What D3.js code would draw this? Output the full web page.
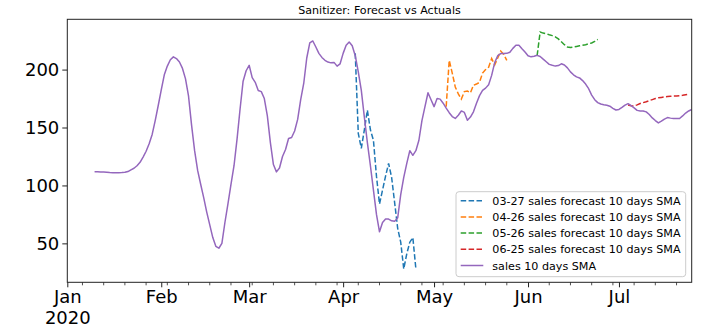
<!DOCTYPE html>
<html><head><meta charset="utf-8">
<script src="https://cdn.jsdelivr.net/npm/d3@7"></script>
<style>body{margin:0;background:#fff} svg{display:block} text{font-family:"DejaVu Sans",sans-serif}</style>
</head><body><svg id="c" width="705" height="330"></svg>
<script>
// ---------- data ----------
const titleText = "Sanitizer: Forecast vs Actuals";
const xDomain = ["2020-01-01", "2020-07-25"];
const yDomain = [16.4, 243.4];
const yTicks = [50, 100, 150, 200];
const monthTicks = ["2020-01-01","2020-02-01","2020-03-01","2020-04-01","2020-05-01","2020-06-01","2020-07-01"];

const salesLabel = "sales 10 days SMA";
const salesStart = "2020-01-10";
const salesValues = [
  111.8,111.9,111.7,111.5,111.3,111.1,111,110.9,110.9,111.1,
  111.4,112,113.5,114.8,117,120,124.5,129.5,136,144,
  156,169,182.5,195.5,203,208.5,211,209.5,206.5,201,
  192,177,152,130,113,101,89.5,77,66,55,
  47.5,45.8,50,68,84,101,117,140,166,190,
  199,203.7,193,189,182,181,175,160,137,118,
  111.7,115,125,131,140.5,141.4,147,157,174,188,
  210,223,224.7,219.5,214,210.5,208,206.5,205.8,206.2,
  203,205,214,221,223.8,220.5,212,198,182,159,
  137,117,96,75,60,68,71,71,69.5,69,
  72,92,107,119,130,126,130,139,156,168,
  180,174,168,175,174.5,171,166.7,162.8,159.5,157.8,
  160.6,164.3,163,156.3,159,163.5,171,177.5,182,184,
  187,195,206,212,213.8,213.8,214,215,218.3,221,
  221,218,215.2,212,211,211.5,212.3,211.3,209,206.8,
  204.5,203.7,203,203.5,205,204,201.5,198,195.5,193.7,
  192.8,190.5,187.5,183.5,178,174,171.5,170.3,169.7,169.2,
  168.4,166.6,165.1,165.6,167.3,169.3,170.6,168.8,167,164.8,
  164.3,164.3,163.5,161.2,158.3,156,154,155.5,157.3,158.6,
  158.1,157.8,157.8,157.8,160,162.5,164.3,165.5
];

const forecastLabels = [
  "03-27 sales forecast 10 days SMA",
  "04-26 sales forecast 10 days SMA",
  "05-26 sales forecast 10 days SMA",
  "06-25 sales forecast 10 days SMA"
];
const forecastStarts = ["2020-04-05", "2020-05-05", "2020-06-04", "2020-07-04"];
const forecast0327 = [214,145,132,148,165,148,139,108,84,96,108,119,107,85,63,51,28,41,51,55,28];
const forecast0426 = [168,208,197,185,179,174.5,181,181.5,180,186.5,187.5,189,197,200,202,209.5,204,210,216,213,208];
const forecast0526 = [212,232.5,231.5,231,230,229.3,228.3,226.5,224,221.5,219.5,219,219.5,220,220.5,221,221.5,222.3,223,224.3,226];
const forecast0625 = [169.5,168.8,168.6,169.5,170.7,171.5,172.3,173.2,174.1,175,175.6,176,176.4,176.7,177,177.1,177.2,177.4,177.8,178.3,178.7];
const forecastValues = [forecast0327, forecast0426, forecast0526, forecast0625];

const forecastColors = ["#1f77b4", "#ff7f0e", "#2ca02c", "#d62728"];
const salesColor = "#9467bd";

// ---------- chart ----------
const M = {left: 67.3, right: 691.7, top: 19.3, bottom: 282.3};
const svg = d3.select("#c");
const parse = s => new Date(s + "T00:00:00Z");
const DAY = 864e5;
const toPoints = (start, vals) => vals.map((v, i) => ({d: new Date(parse(start).getTime() + i * DAY), v}));

const x = d3.scaleUtc().domain(xDomain.map(parse)).range([M.left, M.right]);
const y = d3.scaleLinear().domain(yDomain).range([M.bottom, M.top]);

const line = d3.line().x(p => x(p.d)).y(p => y(p.v));

const plot = svg.append("g");
plot.append("defs").append("clipPath").attr("id", "clip")
  .append("rect").attr("x", M.left).attr("y", M.top)
  .attr("width", M.right - M.left).attr("height", M.bottom - M.top);
const lines = plot.append("g").attr("clip-path", "url(#clip)");

forecastValues.forEach((vals, k) => {
  lines.append("path").datum(toPoints(forecastStarts[k], vals))
    .attr("d", line).attr("fill", "none")
    .attr("stroke", forecastColors[k]).attr("stroke-width", 1.5)
    .attr("stroke-dasharray", "5.5,2.4");
});
lines.append("path").datum(toPoints(salesStart, salesValues))
  .attr("d", line).attr("fill", "none")
  .attr("stroke", salesColor).attr("stroke-width", 1.5)
  .attr("stroke-linejoin", "round");

// axes
const xAxis = d3.axisBottom(x).tickValues(monthTicks.map(parse))
  .tickFormat(d3.utcFormat("%b")).tickSize(5).tickPadding(3);
const gx = svg.append("g").attr("transform", `translate(0,${M.bottom})`).call(xAxis);
gx.select(".domain").remove();
gx.selectAll("text").attr("font-size", 18).attr("font-family", "DejaVu Sans").attr("fill", "#000");
gx.selectAll(".tick line").attr("stroke", "#222").attr("stroke-width", 1);
gx.selectAll(".tick").filter((d, i) => i === 0).select("text")
  .append("tspan").attr("x", 0).attr("dy", "1.15em").text("2020");

// minor (weekly) ticks
const majorSet = new Set(monthTicks.map(s => parse(s).getTime()));
const minors = d3.utcMonday.range(parse(xDomain[0]), new Date(parse(xDomain[1]).getTime() + DAY))
  .filter(d => !majorSet.has(d.getTime()));
svg.append("g").selectAll("line").data(minors).join("line")
  .attr("x1", d => x(d)).attr("x2", d => x(d))
  .attr("y1", M.bottom).attr("y2", M.bottom + 3)
  .attr("stroke", "#222").attr("stroke-width", 0.8);

const yAxis = d3.axisLeft(y).tickValues(yTicks).tickSize(5).tickPadding(3);
const gy = svg.append("g").attr("transform", `translate(${M.left},0)`).call(yAxis);
gy.select(".domain").remove();
gy.selectAll("text").attr("font-size", 18).attr("font-family", "DejaVu Sans").attr("fill", "#000");
gy.selectAll(".tick line").attr("stroke", "#222").attr("stroke-width", 1);

// frame
svg.append("rect").attr("x", M.left).attr("y", M.top)
  .attr("width", M.right - M.left).attr("height", M.bottom - M.top)
  .attr("fill", "none").attr("stroke", "#222").attr("stroke-width", 1);

// title
svg.append("text").attr("x", (M.left + M.right) / 2).attr("y", 14)
  .attr("text-anchor", "middle").attr("font-size", 11.1).attr("fill", "#000").text(titleText);

// legend
const lg = svg.append("g");
lg.append("rect").attr("x", 456).attr("y", 191.7).attr("width", 229.7).attr("height", 85)
  .attr("rx", 3).attr("fill", "#fff").attr("fill-opacity", 0.8)
  .attr("stroke", "#cccccc").attr("stroke-width", 1);
const entries = forecastLabels.map((t, k) => ({t, c: forecastColors[k], dash: true}))
  .concat([{t: salesLabel, c: salesColor, dash: false}]);
entries.forEach((e, i) => {
  const cy = 200.7 + i * 16.2;
  lg.append("line").attr("x1", 460.7).attr("x2", 483.3).attr("y1", cy).attr("y2", cy)
    .attr("stroke", e.c).attr("stroke-width", 1.5)
    .attr("stroke-dasharray", e.dash ? "5.5,2.4" : null);
  lg.append("text").attr("x", 492.3).attr("y", cy).attr("dy", "0.36em")
    .attr("font-size", 11.15).attr("fill", "#000").text(e.t);
});
</script></body></html>
